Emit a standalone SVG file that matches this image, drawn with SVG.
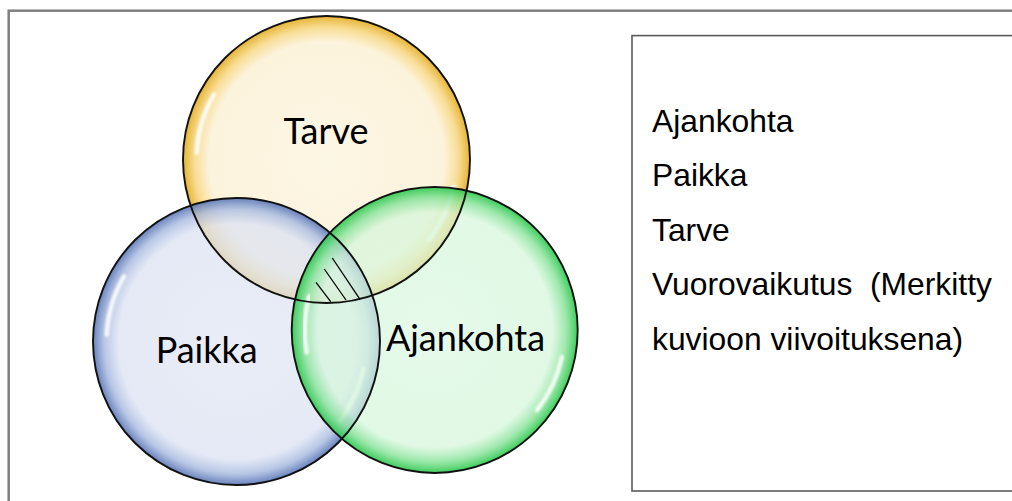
<svg xmlns="http://www.w3.org/2000/svg" width="1012" height="501" viewBox="0 0 1012 501">
<style>
.lbl{font-family:Lato,"Open Sans","Liberation Sans",sans-serif;font-size:36px;fill:#000;text-anchor:middle}
.leg{font-family:"Liberation Sans",Arial,sans-serif;font-size:31.8px;fill:#000;white-space:pre}
.ring{fill:none;stroke:#111;stroke-width:1.9}
.hl{fill:none;stroke:#fff;stroke-width:4.5;stroke-linecap:round;opacity:0.85;filter:url(#blur)}
.hatch{stroke:#000;stroke-width:1.3}
</style>
<defs>
<filter id="blur" x="-20%" y="-20%" width="140%" height="140%"><feGaussianBlur stdDeviation="1.1"/></filter>
<radialGradient id="gT" cx="50%" cy="50%" r="50%">
<stop offset="0" stop-color="#fcf4de" stop-opacity="0.8"/>
<stop offset="0.82" stop-color="#fbf0d3" stop-opacity="0.8"/>
<stop offset="0.92" stop-color="#f6d67f" stop-opacity="0.84"/>
<stop offset="1" stop-color="#e4ad22" stop-opacity="0.92"/>
</radialGradient>
<radialGradient id="gP" cx="50%" cy="50%" r="50%">
<stop offset="0" stop-color="#e2e7f4" stop-opacity="0.75"/>
<stop offset="0.82" stop-color="#dce2f2" stop-opacity="0.75"/>
<stop offset="0.92" stop-color="#a9bbe0" stop-opacity="0.82"/>
<stop offset="1" stop-color="#5a77b6" stop-opacity="0.92"/>
</radialGradient>
<radialGradient id="gA" cx="50%" cy="50%" r="50%">
<stop offset="0" stop-color="#dcf8e1" stop-opacity="0.72"/>
<stop offset="0.82" stop-color="#d5f6db" stop-opacity="0.72"/>
<stop offset="0.92" stop-color="#88e39a" stop-opacity="0.82"/>
<stop offset="1" stop-color="#2bc84c" stop-opacity="0.92"/>
</radialGradient>
</defs>
<rect x="0" y="0" width="1012" height="501" fill="#fff"/>
<rect id="frame" x="8.7" y="10.7" width="1100" height="600" fill="none" stroke="#7f7f7f" stroke-width="2.5"/>

<g id="node-tarve">
<circle cx="326.5" cy="159.5" r="143.5" fill="url(#gT)"/>
<path class="hl" d="M 196.7 152.7 A 130 130 0 0 1 213.9 94.5"/>
<path class="hl" d="M 453.6 186.5 A 130 130 0 0 1 428.9 239.6"/>
<text class="lbl" x="326" y="144">Tarve</text>
</g>
<g id="node-paikka">
<circle cx="236.5" cy="341.5" r="143.5" fill="url(#gP)"/>
<path class="hl" d="M 106.7 334.7 A 130 130 0 0 1 123.9 276.5"/>
<path class="hl" d="M 363.6 368.5 A 130 130 0 0 1 338.9 421.6"/>
<text class="lbl" x="206.7" y="362.7">Paikka</text>
</g>
<g id="node-ajankohta">
<circle cx="434.7" cy="330" r="143" fill="url(#gA)"/>
<path class="hl" d="M 306.7 352.6 A 130 130 0 0 1 309.1 296.4"/>
<path class="hl" d="M 561.9 357 A 130 130 0 0 1 537.1 410"/>
<text class="lbl" x="465.5" y="351">Ajankohta</text>
</g>
<g id="outlines">
<circle class="ring" cx="326.5" cy="159.5" r="143.5"/>
<circle class="ring" cx="236.5" cy="341.5" r="143.5"/>
<circle class="ring" cx="434.7" cy="330" r="143"/>
</g>
<g id="node-vuorovaikutus">
<line class="hatch" x1="316" y1="282.3" x2="330.7" y2="301.7"/>
<line class="hatch" x1="324.3" y1="269" x2="346" y2="300"/>
<line class="hatch" x1="332.3" y1="258" x2="360" y2="299.3"/>
</g>
<g id="legend">
<rect x="632" y="35.6" width="500" height="455.4" fill="#fff" stroke="#5a5a5a" stroke-width="1.6"/>
<text class="leg" x="652" y="131.5">Ajankohta</text>
<text class="leg" x="652" y="186">Paikka</text>
<text class="leg" x="652" y="240.5">Tarve</text>
<text class="leg" x="652" y="295" xml:space="preserve">Vuorovaikutus  (Merkitty</text>
<text class="leg" x="652" y="349.5">kuvioon viivoituksena)</text>
</g>
</svg>
